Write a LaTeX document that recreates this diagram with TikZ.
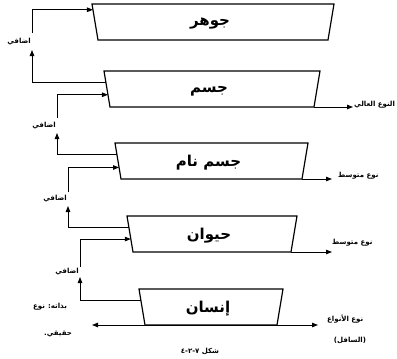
\documentclass[tikz,border=0pt]{standalone}
\usepackage{fontspec}
\newfontfamily\arabicfont[Script=Arabic]{DejaVu Sans}
\TeXXeTstate=1
\usetikzlibrary{arrows.meta, calc}
\newcommand{\ar}[1]{\arabicfont\beginR #1\endR}

\begin{document}
\begin{tikzpicture}[x=1pt, y=-1pt,
    box/.style={draw, line width=1.2pt},
    level/.style={font=\arabicfont\bfseries\fontsize{15}{17}\selectfont},
    lab/.style={font=\arabicfont\bfseries\fontsize{7}{8}\selectfont, inner sep=1pt},
    arr/.style={line width=1pt, -{Triangle[length=6pt, width=4.5pt]}}
  ]
  \useasboundingbox (0,0) rectangle (397,359);
  % the five levels, from the highest genus down
  \foreach \n/\xl/\xr/\yt/\fin/\txt in {
      jawhar/92/334/4/0.16/جوهر,
      jism/104/320/71/0.66/جسم,
      nami/115/308/143/0.68/جسم نام,
      hayawan/127/297/216/0.64/حيوان,
      insan/139/283/289/0.66/إنسان}{
    \coordinate (\n-tl) at (\xl,\yt);
    \coordinate (\n-tr) at (\xr,\yt);
    \coordinate (\n-br) at (\xr-6,\yt+36);
    \coordinate (\n-bl) at (\xl+6,\yt+36);
    \draw[box] (\n-tl) -- (\n-tr) -- (\n-br) -- (\n-bl) -- cycle;
    \node[level] (\n) at ($(\n-tl)!0.5!(\n-br)+(0,2)$) {\beginR\txt\endR};
    \coordinate (\n-in) at ($(\n-tl)!\fin!(\n-bl)$);
    \coordinate (\n-out) at ($(\n-tl)!0.31!(\n-bl)$);
  }
  % relative links on the left
  \foreach \lo/\hi/\x/\ya/\yb in {
      jism/jawhar/32/50/33,
      nami/jism/57/133/118,
      hayawan/nami/68/206/192,
      insan/hayawan/80/277/267}{
    \coordinate (\lo-up) at (\x,\ya);
    \coordinate (\hi-dn) at (\x,\yb);
    \draw[arr] (\lo-out) -| (\lo-up);
    \draw[arr] (\hi-dn) |- (\hi-in);
    \node[lab, left] (\lo-lab) at ($(\lo-up)!0.5!(\hi-dn)$) {\ar{اضافي}};
  }
  % species lines on the right
  \draw[arr] (jism-br) -- ++(39,0) coordinate (jism-r);
  \node[lab, anchor=south west] (jism-kind) at ([yshift=-2]jism-r) {\ar{النوع العالي}};
  \draw[arr] (nami-br) -- ++(30,0) coordinate (nami-r);
  \node[lab, anchor=west] (nami-kind) at ([shift={(5,-3)}]nami-r) {\ar{نوع متوسط}};
  \draw[arr] (hayawan-br) -- ++(41,0) coordinate (hayawan-r);
  \node[lab, anchor=west] (hayawan-kind) at ([shift={(-1,-9)}]hayawan-r) {\ar{نوع متوسط}};
  \coordinate (insan-l) at (92,325);
  \coordinate (insan-r) at (318,325);
  \draw[arr, {Triangle[length=6pt, width=4.5pt]}-{Triangle[length=6pt, width=4.5pt]}] (insan-l) -- (insan-r);
  \node[lab, anchor=west] (insan-kind) at ([shift={(8,-6)}]insan-r) {\ar{نوع الأنواع}};
  \node[lab] (insan-low) at (350,340) {\ar{(السافل)}};
  \node[lab] (insan-self) at (50,307) {\ar{بذاته\kern0pt: نوع}};
  \node[lab] (insan-real) at (58,334) {\ar{حقيقي\kern0pt.}};
  \node[lab] (caption) at (200,351) {\arabicfont\beginL ٤\kern0pt-\kern0pt٢\kern0pt-\kern0pt٧ \beginR شكل\endR\endL};
\end{tikzpicture}
\end{document}
